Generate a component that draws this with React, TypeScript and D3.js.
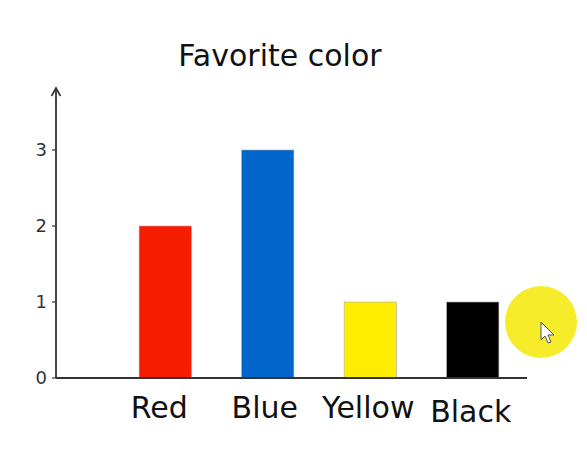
import React, { useRef, useEffect } from 'react';
import * as d3 from 'd3';

const categories = ['Red', 'Blue', 'Yellow', 'Black'];
const counts = [2, 3, 1, 1];
const barColors = ['#f51c00', '#0066cc', '#ffec00', '#000000'];
const yTicks = [0, 1, 2, 3];

export default function App() {
  const ref = useRef<SVGSVGElement>(null);

  useEffect(() => {
    const svg = d3.select(ref.current);
    svg.selectAll('*').remove();
    const width = 587, height = 466;
    const font = '"DejaVu Sans", Verdana, sans-serif';

    svg.append('rect').attr('width', width).attr('height', height).attr('fill', '#fff');

    const x = d3.scaleBand()
      .domain(categories)
      .range([114, 524])
      .paddingInner(0.49)
      .paddingOuter(0.245);

    const y = d3.scaleLinear().domain([0, 3]).range([378, 150]);

    // title
    svg.append('text')
      .attr('x', 280).attr('y', 66)
      .attr('text-anchor', 'middle')
      .attr('font-family', font)
      .attr('font-size', 30)
      .attr('fill', '#111')
      .text('Favorite color');

    // bars
    svg.selectAll('.bar')
      .data(categories)
      .join('rect')
      .attr('class', 'bar')
      .attr('x', d => x(d)!)
      .attr('y', (d, i) => y(counts[i]))
      .attr('width', x.bandwidth())
      .attr('height', (d, i) => y(0) - y(counts[i]))
      .attr('fill', (d, i) => barColors[i])
      .attr('stroke', '#aaa')
      .attr('stroke-width', 0.6);

    // y axis with arrow
    const ax = 56;
    svg.append('line')
      .attr('x1', ax).attr('x2', ax)
      .attr('y1', y(0)).attr('y2', 88)
      .attr('stroke', '#333').attr('stroke-width', 1.8);
    svg.append('path')
      .attr('d', `M${ax - 4.5},${96} L${ax},${88} L${ax + 4.5},${96}`)
      .attr('fill', 'none').attr('stroke', '#333').attr('stroke-width', 1.6);

    const ticks = svg.append('g');
    ticks.selectAll('line')
      .data(yTicks)
      .join('line')
      .attr('x1', ax - 4).attr('x2', ax)
      .attr('y1', d => y(d)).attr('y2', d => y(d))
      .attr('stroke', '#333').attr('stroke-width', 1.2);
    ticks.selectAll('text')
      .data(yTicks)
      .join('text')
      .attr('x', ax - 9)
      .attr('y', d => y(d))
      .attr('dy', '0.36em')
      .attr('text-anchor', 'end')
      .attr('font-family', font)
      .attr('font-size', 18)
      .attr('fill', '#333')
      .text(d => d);

    // x axis
    svg.append('line')
      .attr('x1', ax).attr('x2', 527)
      .attr('y1', y(0)).attr('y2', y(0))
      .attr('stroke', '#333').attr('stroke-width', 1.8);

    // category labels
    const labelShift = [-6, -3, -2, -2];
    svg.selectAll('.lbl')
      .data(categories)
      .join('text')
      .attr('class', 'lbl')
      .attr('x', (d, i) => x(d)! + x.bandwidth() / 2 + labelShift[i])
      .attr('y', (d, i) => 418 + (i === 3 ? 4 : 0))
      .attr('text-anchor', 'middle')
      .attr('font-family', font)
      .attr('font-size', 30)
      .attr('fill', '#111')
      .text(d => d);

    // cursor highlight from the recording
    svg.append('circle')
      .attr('cx', 541).attr('cy', 322).attr('r', 36)
      .attr('fill', '#f7ec2a');
    svg.append('path')
      .attr('d', 'M541,322 L541,340 L545,336 L548,343 L551,342 L548,335 L554,335 Z')
      .attr('fill', '#fff').attr('stroke', '#555').attr('stroke-width', 1);
  }, []);

  return (
    <svg ref={ref} width={587} height={466}
      style={{ position: 'absolute', left: 0, top: 0 }}
      role="img" aria-label="Favorite color bar chart"></svg>
  );
}
